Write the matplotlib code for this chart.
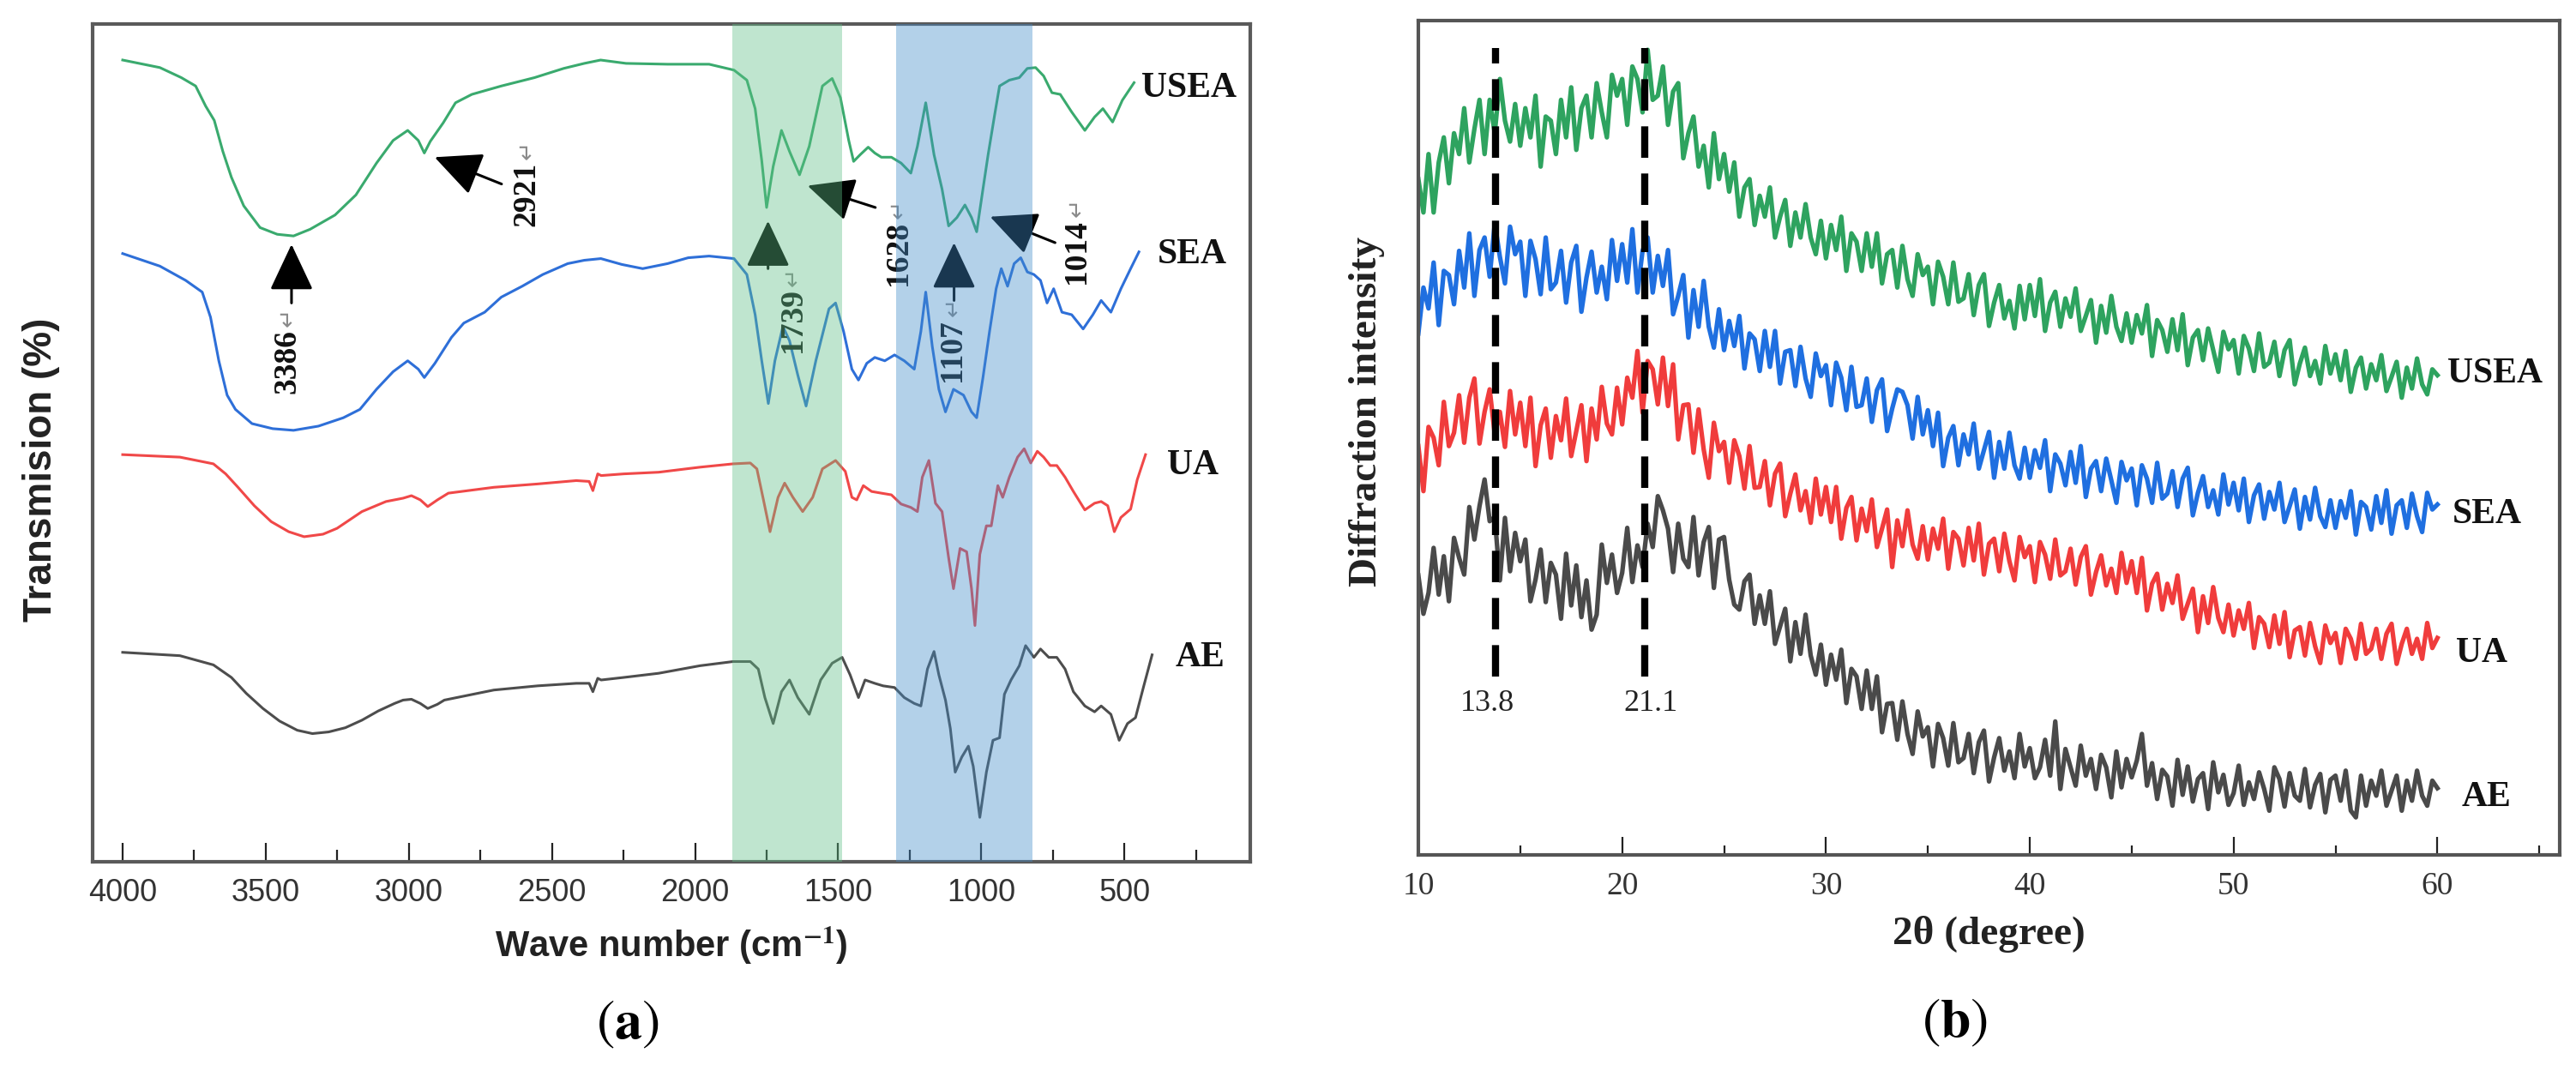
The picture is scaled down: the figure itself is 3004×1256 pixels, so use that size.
import numpy as np
import matplotlib
matplotlib.use('Agg')
import matplotlib.pyplot as plt

plt.rcParams['font.family'] = ['Liberation Sans', 'DejaVu Sans']
plt.rcParams['mathtext.fontset'] = 'stix'

SERIF = ['Liberation Serif', 'DejaVu Sans']

# ---------------- (a) FTIR spectra (transmission, arbitrary % of frame) ----------------
usea_wn = [4000, 3870, 3795, 3745, 3710, 3680, 3650, 3620, 3577, 3520, 3460, 3403, 3345, 3258, 3185,
           3113, 3055, 3004, 2967, 2946, 2925, 2880, 2837, 2780, 2677, 2561, 2459, 2387, 2330, 2241,
           2096, 1951, 1864, 1819, 1790, 1767, 1750, 1727, 1698, 1670, 1635, 1601, 1555, 1521, 1492,
           1463, 1446, 1423, 1395, 1372, 1349, 1314, 1280, 1246, 1223, 1194, 1165, 1137, 1114, 1085,
           1057, 1034, 1016, 994, 976, 953, 936, 902, 867, 839, 810, 782, 753, 724, 684,
           638, 604, 575, 541, 507, 466]
usea_t = [95.7, 94.8, 93.6, 92.6, 90.2, 88.5, 84.8, 81.7, 78.3, 75.7, 74.9, 74.7, 75.5, 77.2, 79.6,
          83.4, 86.1, 87.3, 86.1, 84.6, 86, 88.2, 90.6, 91.6, 92.6, 93.6, 94.7, 95.3, 95.7, 95.3,
          95.2, 95.2, 94.5, 93.3, 89.9, 83.7, 78.1, 83, 87.3, 84.8, 82, 85.4, 92.6, 93.5, 91.2,
          86.1, 83.6, 84.4, 85.3, 84.6, 84.1, 84.1, 83.4, 82.2, 85.4, 90.6, 84.4, 80.3, 75.9, 76.9,
          78.4, 76.9, 75.2, 80.3, 84.4, 89.2, 92.6, 93.3, 93.6, 94.7, 94.8, 93.8, 91.8, 91.6, 89.5,
          87.3, 88.9, 89.9, 88.3, 90.9, 93]

sea_wn = [4000, 3870, 3780, 3722, 3693, 3664, 3635, 3606, 3548, 3476, 3403, 3316, 3229, 3171, 3113,
          3055, 3004, 2967, 2946, 2909, 2851, 2808, 2735, 2677, 2604, 2532, 2445, 2387, 2329, 2256,
          2183, 2096, 2024, 1951, 1864, 1819, 1790, 1767, 1744, 1721, 1693, 1670, 1641, 1612, 1578,
          1532, 1509, 1481, 1452, 1429, 1400, 1372, 1337, 1303, 1269, 1234, 1211, 1194, 1171, 1148,
          1125, 1097, 1062, 1034, 1016, 994, 971, 948, 930, 908, 885, 862, 839, 816, 793,
          770, 747, 718, 684, 644, 610, 581, 547, 512, 478, 449]
sea_t = [72.6, 71.1, 69.4, 68, 65, 59.8, 55.7, 54, 52.3, 51.7, 51.5, 52, 53, 54, 56.4,
         58.5, 59.8, 58.8, 57.8, 59.5, 62.6, 64.3, 65.6, 67.4, 68.7, 70.1, 71.4, 71.8, 72, 71.3,
         70.8, 71.4, 72.1, 72.3, 72, 70.1, 65.3, 59.8, 54.7, 59.8, 63.9, 62.2, 58.1, 54.4, 59.8,
         66, 66.7, 63.3, 58.8, 57.5, 59.5, 60.2, 59.8, 60.5, 59.8, 58.8, 63.3, 68, 61.5, 56.4,
         53.7, 56.4, 55.7, 53.7, 53, 57.8, 63.3, 68.4, 70.8, 68.7, 71.4, 72.1, 70.4, 70.1, 69.4,
         66.7, 68.4, 65.6, 65.3, 63.6, 65.3, 67, 65.6, 68.4, 70.8, 72.8]

ua_wn = [4000, 3800, 3683, 3640, 3597, 3540, 3481, 3420, 3366, 3300, 3251, 3164, 3080, 3020, 2991,
         2960, 2934, 2900, 2862, 2703, 2550, 2415, 2370, 2357, 2340, 2328, 2250, 2127, 1983, 1867,
         1807, 1784, 1761, 1738, 1710, 1687, 1658, 1624, 1589, 1555, 1509, 1475, 1452, 1435, 1412,
         1383, 1349, 1314, 1280, 1246, 1223, 1206, 1183, 1160, 1137, 1114, 1097, 1074, 1051, 1034,
         1022, 1005, 982, 965, 942, 925, 902, 873, 850, 827, 804, 782, 759, 736, 707,
         678, 638, 604, 581, 558, 535, 512, 478, 455, 426]
ua_t = [48.6, 48.3, 47.5, 46.3, 44.7, 42.5, 40.6, 39.4, 38.8, 39.1, 39.8, 41.8, 43, 43.4, 43.7,
        43.2, 42.4, 43.2, 44, 44.7, 45.1, 45.5, 45.4, 44.3, 46.3, 46.1, 46.3, 46.5, 47.1, 47.5,
        47.6, 46.9, 43.2, 39.4, 43.5, 45.2, 43.5, 41.8, 43.5, 46.9, 47.9, 46.6, 43.5, 43.2, 44.9,
        44.2, 44, 43.8, 42.7, 42.3, 41.8, 45.9, 47.9, 42.8, 41.8, 36.3, 32.6, 37.4, 37, 32.6,
        28.2, 36.7, 40.1, 40.1, 44.9, 43.5, 45.9, 48.3, 49.3, 47.6, 49, 48.3, 47.3, 47.3, 45.9,
        44.2, 42, 42.8, 43, 42.5, 39.4, 41.1, 42.1, 45.6, 48.6]

ae_wn = [4000, 3800, 3683, 3620, 3568, 3510, 3452, 3390, 3337, 3280, 3222, 3164, 3107, 3050, 3020,
         2991, 2960, 2934, 2900, 2876, 2703, 2550, 2415, 2370, 2357, 2340, 2328, 2250, 2127, 1983,
         1867, 1807, 1779, 1756, 1727, 1698, 1670, 1641, 1601, 1561, 1521, 1486, 1458, 1429, 1406,
         1372, 1343, 1303, 1269, 1234, 1211, 1188, 1165, 1148, 1125, 1108, 1091, 1068, 1045, 1028,
         1005, 982, 959, 936, 919, 896, 867, 845, 816, 793, 764, 736, 707, 678, 638,
         604, 581, 547, 518, 489, 461, 432, 403]
ae_t = [25, 24.6, 23.5, 22, 20.1, 18.3, 16.8, 15.7, 15.3, 15.5, 16, 16.9, 18, 18.9, 19.3,
        19.4, 18.9, 18.3, 18.8, 19.3, 20.5, 21, 21.3, 21.3, 20.3, 21.9, 21.7, 22, 22.5, 23.4,
        23.9, 23.9, 23, 19.6, 16.5, 20.3, 21.7, 19.6, 17.6, 21.7, 23.7, 24.4, 22.3, 19.6, 21.7,
        21.3, 21, 20.8, 19.6, 18.9, 18.6, 23, 25.1, 22.3, 19.3, 15.9, 10.7, 12.5, 13.8, 11.4,
        5.3, 10.7, 14.5, 14.8, 20, 21.7, 23.4, 25.8, 24.4, 25.4, 24.4, 24.4, 23, 20.3, 18.6,
        17.9, 18.6, 17.6, 14.5, 16.5, 17.2, 21, 24.7]

ftir_names = ['USEA', 'SEA', 'UA', 'AE']
ftir_colors = ['#3aaa6e', '#2e6fd8', '#f04848', '#4d4d4d']

# shaded wavenumber bands
bands = [(1871, 1487), (1296, 820)]
band_colors = ['#5fc087', '#418cca']

# peak annotations: label, arrow tip, arrow tail, number centre
peak_labels = ['3386', '2921', '1739', '1628', '1107', '1014']
peak_tip = [(3410, 73.7), (2910, 84.1), (1745, 76.5), (1607, 80.7), (1095, 73.9), (969, 77.0)]
peak_tail = [(3410, 66.7), (2676, 80.9), (1745, 70.8), (1370, 78.1), (1095, 67.0), (742, 73.9)]
peak_text = [(3425, 59.7), (2589, 79.7), (1658, 64.6), (1290, 72.6), (1100, 61.0), (667, 72.8)]

# ---------------- (b) XRD patterns, 2theta = 10..60 in 0.25 steps ----------------
xrd_usea = [81, 77, 84, 77, 83, 86, 80.5, 86.5, 84, 89.5, 83, 87, 90.5, 84, 90.5, 86.5, 93, 88, 85.5, 90,
            85, 89.5, 86, 91, 82.5, 88.5, 88, 84, 90.5, 86, 92, 84.5, 89.5, 91, 86, 92.5, 89, 86, 93.5, 91,
            93, 87.5, 94.5, 93, 89, 96.5, 90.5, 91, 94.5, 87.5, 91.5, 92.5, 83.5, 86.5, 88.5, 82.5, 85, 80, 86.5, 81,
            84, 79.5, 83, 76.5, 80, 81, 75.5, 79, 76.5, 80, 74, 76.5, 78.5, 73, 77, 74, 78, 74, 72, 76,
            71.5, 75.5, 72.5, 76.5, 70, 74.5, 73.5, 70, 74.5, 70.5, 74.5, 68.5, 72, 72.5, 68, 73, 69, 67, 72, 69.5,
            70.5, 66, 71.1, 69.3, 66, 71, 66.3, 66.7, 69.6, 64.7, 68.3, 69.6, 63.4, 66.2, 68.3, 64.3, 66.4, 63.1, 68.2, 64.2,
            68.3, 64.6, 69, 62.8, 66.2, 67.5, 63.3, 66.7, 64.5, 67.9, 62.8, 64.6, 66.5, 61.4, 65.8, 62.6, 67, 63.3, 61.6, 64.9,
            61.4, 64.7, 62.5, 65.9, 59.8, 64.1, 62.9, 60.3, 64.2, 60.5, 64.8, 58.7, 62, 62.9, 59.3, 63.1, 60.5, 57.9, 62.7, 60.6,
            61.7, 57.7, 62.2, 60.7, 58, 62.5, 58.5, 59, 61.5, 57.4, 60.5, 61.7, 56.4, 58.9, 60.8, 57.4, 59.2, 56.5, 61, 57.7,
            60, 56.9, 60.4, 55.5, 58.4, 59.6, 55.9, 58.8, 56.9, 59.9, 55.6, 57.3, 59.1, 54.8, 58.4, 55.9, 59.5, 56.4, 55.2, 58.2,
            57.5]
xrd_sea = [62.5, 68, 65.5, 71, 63.5, 70, 69.5, 66, 72.4, 68, 74.5, 67, 72.5, 74, 69.3, 75.7, 71.7, 68.5, 75.3, 72,
           73.5, 67, 73.6, 71.4, 67.2, 74, 67.8, 68.6, 72.4, 66.2, 71, 73, 65.1, 69.2, 72.3, 67.4, 70.5, 66.6, 73.7, 68.8,
           73.2, 68.6, 75, 67.4, 72.4, 74, 67.4, 71.8, 68.2, 72.5, 64.8, 67, 69.5, 62, 67.7, 63.3, 68.8, 63.3, 60.8, 65.4,
           60.5, 64, 61, 64.6, 58.3, 62.5, 61.8, 58, 62.8, 58.5, 62.8, 56.5, 60.3, 60.5, 56.2, 60.9, 57.1, 54.9, 60.1, 57.4,
           58.7, 53.9, 59, 57.2, 53.3, 58.5, 53.7, 53.9, 57.1, 51.9, 55.7, 57, 50.8, 53.5, 55.8, 55.5, 53.9, 49.9, 54.9, 50.4,
           53.3, 49, 53, 46.6, 50, 51.4, 46.7, 50.4, 48, 51.7, 46.3, 48.5, 50.7, 45.2, 49.5, 46.3, 50.6, 46.7, 45.1, 48.8,
           45.2, 48.5, 46.4, 49.7, 43.6, 48, 46.9, 44.3, 48.3, 44.6, 49, 42.9, 46.3, 47.2, 43.6, 47.5, 44.9, 42.2, 47.1, 44.9,
           46.3, 41.9, 46.7, 45.1, 42.2, 47, 42.7, 43.3, 46, 41.7, 45.1, 46.4, 40.7, 43.4, 45.4, 41.7, 43.7, 40.8, 45.6, 42,
           44.6, 41.3, 45.1, 39.9, 43.1, 44.4, 40.3, 43.5, 41.4, 44.6, 39.9, 41.8, 43.8, 39.1, 42.9, 40.2, 44, 40.6, 39.3, 42.5,
           39.2, 42.4, 40.4, 43.6, 38.4, 42.3, 41.7, 39, 43, 39.8, 43.7, 38.5, 41.9, 42.5, 39.2, 43.3, 40.6, 38.7, 43.4, 41.4,
           42]
xrd_ua = [49, 43.6, 51.3, 50, 46.7, 54.3, 49, 50.6, 55.1, 49.4, 54.8, 57.1, 49.3, 53.1, 55.8, 50.4, 53.1, 48.9, 55.6, 50.4,
          54.2, 49, 54.8, 46.6, 51.5, 53.5, 47.6, 52.6, 49.7, 54.7, 47.8, 50.8, 53.9, 47.2, 53.5, 49.8, 56.1, 51.7, 50.4, 56,
          51.6, 57.2, 54.8, 60.4, 53, 59.2, 58.2, 54, 59.6, 53.8, 58.8, 49.8, 53.9, 54, 48.2, 53.4, 48.6, 45.2, 51.8, 48.4,
          49.5, 44.6, 49.7, 47.8, 43.9, 49, 44, 44.1, 47.2, 41.9, 45.7, 46.9, 40.6, 43.3, 45.6, 41.3, 43.6, 39.8, 45.1, 40.8,
          44.1, 39.9, 44.1, 37.9, 41.6, 42.9, 37.7, 41.5, 38.8, 42.6, 36.9, 39.1, 41.4, 34.5, 40.1, 37, 41.3, 37.2, 35.5, 39.4,
          35.4, 39.1, 36.7, 40.3, 34.3, 38.7, 37.9, 34.7, 39.2, 35.3, 39.7, 33.6, 37.3, 37.9, 34, 38.5, 35.2, 32.9, 38.1, 35.7,
          37, 32.7, 37.5, 36, 33.1, 37.8, 33.5, 34, 36.7, 32.4, 35.7, 37, 31.2, 33.9, 35.9, 32.3, 34.3, 31.4, 36.2, 32.6,
          35.2, 31.4, 35.6, 29.3, 32.5, 33.7, 29.4, 32.5, 30.2, 33.5, 28.3, 30.1, 31.9, 26.7, 31, 27.8, 32.1, 28.4, 26.7, 30,
          26.3, 29.3, 27.1, 30.2, 24.8, 28.5, 27.7, 24.9, 28.7, 25.3, 29.1, 23.7, 26.9, 27.3, 23.9, 27.8, 25, 23, 27.5, 25.4,
          26.6, 23, 27.1, 25.9, 23.5, 27.7, 24.1, 24.7, 27.1, 23.5, 26.5, 27.7, 22.9, 25.3, 27.1, 24.1, 25.9, 23.5, 27.8, 24.8,
          26]
xrd_ae = [33.5, 28.9, 31.4, 36.8, 31.2, 35.8, 30.4, 38, 35.6, 33.6, 41.7, 37.8, 41.8, 45, 40, 40.5, 32.9, 40.4, 34, 38.6,
          35.2, 37.8, 30.4, 33, 36.6, 30.3, 35, 33.6, 28.3, 36.1, 29.9, 34.7, 28.5, 32.9, 27, 28.8, 37.2, 32.6, 36, 31.4,
          33.8, 39.2, 32.7, 37.1, 34.5, 39.7, 36.9, 43, 41.3, 39.1, 33.9, 39.7, 35.5, 34.5, 40.5, 33.5, 37.5, 39.3, 32, 37.8,
          38.1, 33, 30, 29.4, 32.8, 33.6, 27.7, 31.1, 27.7, 31.6, 25.3, 27.4, 29.5, 23.2, 27.9, 24.1, 28.8, 23.9, 21.6, 25.2,
          20.4, 24, 21, 24.6, 18.2, 22.3, 21.4, 17.5, 22.1, 17.5, 21.4, 14.7, 18.1, 18.2, 13.8, 18.4, 14.5, 12.1, 17.2, 14.2,
          15.3, 10.6, 15.7, 14, 10.7, 15.8, 11.1, 11.6, 14.5, 9.8, 13.5, 14.9, 8.8, 11.7, 14, 10.1, 12.4, 9.2, 14.5, 10.6,
          12.8, 9.2, 10.5, 13.8, 9.5, 16, 7.9, 12.7, 10.5, 8.3, 13.1, 9.5, 11.5, 7.9, 12, 10.5, 6.9, 12.4, 8.1, 11.5,
          9.3, 11.3, 14.5, 8.3, 11, 6.7, 10.2, 9.4, 5.9, 11.4, 7.2, 10.6, 6.4, 9.1, 9.8, 5.5, 11.1, 7.5, 9.6, 6,
          7.4, 10.7, 6, 8.7, 6.7, 9.9, 7.9, 5.3, 10.5, 9.1, 5.8, 9.8, 7.1, 6.5, 10.3, 5.7, 8.4, 9.7, 5.1, 9,
          9.5, 6.5, 10.1, 5.3, 4.5, 9.5, 5.9, 8.9, 7.1, 10.1, 5.9, 7.7, 9.5, 5.3, 8.9, 6.5, 10.1, 7.1, 5.9, 8.9,
          8]
xrd_colors = ['#2ea35f', '#1f6fe0', '#f03c3c', '#4a4a4a']
xrd_peaks = [13.8, 21.1]

# label positions (data coords)
ftir_label_pos = [(440, 92.3), (385, 72.5), (352, 47.3), (322, 24.4)]
xrd_label_pos = [(60.5, 57.7), (60.75, 40.8), (60.9, 24.2), (61.2, 6.9)]

W, H = 3004, 1256
fig = plt.figure(figsize=(W / 100, H / 100), dpi=100)
fig.patch.set_facecolor('white')

ax1 = fig.add_axes([108 / W, 1 - 1005 / H, 1350 / W, 977 / H])
ax2 = fig.add_axes([1654 / W, 1 - 997 / H, 1331 / W, 973 / H])

# ---- panel (a) ----
ftir_wn = [usea_wn, sea_wn, ua_wn, ae_wn]
ftir_t = [usea_t, sea_t, ua_t, ae_t]
for wn, t, c in zip(ftir_wn, ftir_t, ftir_colors):
    ax1.plot(wn, t, color=c, lw=2.2, zorder=2, solid_joinstyle='round')

# translucent bands sit on top, tinting curves and arrows below them
for (a, b), c in zip(bands, band_colors):
    ax1.axvspan(a, b, color=c, alpha=0.4, lw=0, zorder=5)

for lab, tip, tail, tp in zip(peak_labels, peak_tip, peak_tail, peak_text):
    ax1.annotate('', xy=tip, xytext=tail,
                 arrowprops=dict(arrowstyle='-|>,head_length=1.7,head_width=0.8',
                                 mutation_scale=20, lw=2.2, color='black',
                                 shrinkA=0, shrinkB=0), zorder=3)
    ax1.text(tp[0], tp[1], lab, rotation=90, ha='center', va='center',
             fontsize=27, fontweight='bold', family=SERIF, color='#111111', zorder=3)
    ax1.annotate('\u21b5', xy=tp, xytext=(0, 37), textcoords='offset points',
                 rotation=90, ha='center', va='center', fontsize=19,
                 family='DejaVu Sans', color='#8a8a8a', zorder=3)

for name, (x, y) in zip(ftir_names, ftir_label_pos):
    ax1.text(x, y, name, ha='left', va='center', fontsize=30, fontweight='bold',
             family=SERIF, color='#111111')

ax1.set_xlim(4105, 60)
ax1.set_ylim(0, 100)
ax1.set_yticks([])
ax1.set_xticks(np.arange(500, 4001, 500))
ax1.set_xticks(np.arange(250, 4001, 250), minor=True)
ax1.tick_params(axis='x', which='major', direction='in', length=16, width=1.6,
                labelsize=26, pad=14, color='#222222', labelcolor='#333333')
ax1.tick_params(axis='x', which='minor', direction='in', length=10, width=1.6, color='#222222')
for sp in ax1.spines.values():
    sp.set_linewidth(3)
    sp.set_color('#5a5a5a')

ax1.text(0.5, -0.10, 'Wave number (cm$^{\\mathbf{-1}}$)', transform=ax1.transAxes,
         ha='center', va='center', fontsize=30, fontweight='bold', color='#222222')
ax1.text(-0.0444, 0.468, 'Transmision (%)', transform=ax1.transAxes, rotation=90,
         ha='center', va='center', fontsize=33, fontweight='bold', color='#222222')

# ---- panel (b) ----
xrd_all = [xrd_usea, xrd_sea, xrd_ua, xrd_ae]
for y, c in zip(xrd_all, xrd_colors):
    two_theta = np.linspace(10, 60, len(y))
    ax2.plot(two_theta, y, color=c, lw=3.8, zorder=2)

ax2.vlines(xrd_peaks, 21.4, 96.7, colors='black', lw=6,
           linestyles=[(0, (4.4, 2.2))], zorder=4)
for p in xrd_peaks:
    ax2.text(p - 0.4 if p < 15 else p + 0.3, 18.1, f'{p:.1f}', ha='center', va='center',
             fontsize=26, family=SERIF, color='#222222')

for name, (x, y) in zip(ftir_names, xrd_label_pos):
    ax2.text(x, y, name, ha='left', va='center', fontsize=30, fontweight='bold',
             family=SERIF, color='#111111')

ax2.set_xlim(10, 66)
ax2.set_ylim(0, 100)
ax2.set_yticks([])
ax2.set_xticks(np.arange(10, 61, 10))
ax2.set_xticks(np.arange(15, 66, 10), minor=True)
ax2.tick_params(axis='x', which='major', direction='in', length=15, width=1.6,
                labelsize=27, pad=14, color='#222222', labelcolor='#333333')
ax2.tick_params(axis='x', which='minor', direction='in', length=8, width=1.6, color='#222222')
for lbl in ax2.get_xticklabels():
    lbl.set_family(SERIF)
for sp in ax2.spines.values():
    sp.set_linewidth(3)
    sp.set_color('#555555')

ax2.text(0.5, -0.0946, '2\u03b8 (degree)', transform=ax2.transAxes, ha='center', va='center',
         fontsize=34, fontweight='bold', family=SERIF, color='#222222')
ax2.text(-0.045, 0.531, 'Diffraction intensity', transform=ax2.transAxes, rotation=90,
         ha='center', va='center', fontsize=34, fontweight='bold', family=SERIF, color='#222222')

# captions
fig.text(732 / W, 1 - 1195 / H, r'$(\mathbf{a})$', ha='center', va='center', fontsize=46)
fig.text(2280 / W, 1 - 1193 / H, r'$(\mathbf{b})$', ha='center', va='center', fontsize=46)

fig.savefig('out.png', dpi=100, facecolor='white')
